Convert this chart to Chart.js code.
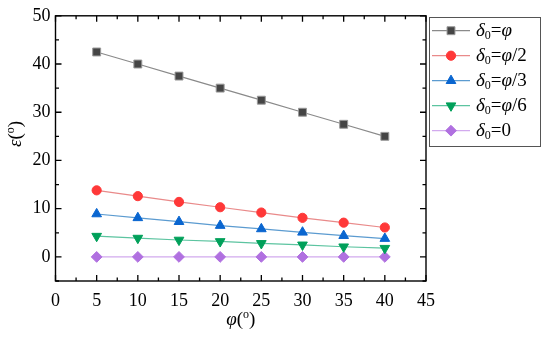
<!DOCTYPE html>
<html><head><meta charset="utf-8">
<script src="https://cdn.jsdelivr.net/npm/chart.js@4/dist/chart.umd.min.js"></script>
<style>html,body{margin:0;padding:0;background:#fff}#wrap{width:550px;height:340px;position:relative}</style>
</head><body><div id="wrap"><canvas id="c" width="550" height="340"></canvas></div>
<script>
const phi = [5, 10, 15, 20, 25, 30, 35, 40];
const epsPhi  = [42.5, 40, 37.5, 35, 32.5, 30, 27.5, 25];
const epsHalf = [13.8, 12.6, 11.4, 10.3, 9.2, 8.1, 7.1, 6.1];
const epsThird = [8.9, 8.1, 7.3, 6.5, 5.8, 5.1, 4.4, 3.8];
const epsSixth = [4.3, 3.9, 3.5, 3.2, 2.8, 2.5, 2.1, 1.8];
const epsZero = [0, 0, 0, 0, 0, 0, 0, 0];
const xTicks = [0, 5, 10, 15, 20, 25, 30, 35, 40, 45];
const yTicks = [0, 10, 20, 30, 40, 50];
const legendLabels = [
  [['δ','i'],['0','s'],['=','n'],['φ','i']],
  [['δ','i'],['0','s'],['=','n'],['φ','i'],['/2','n']],
  [['δ','i'],['0','s'],['=','n'],['φ','i'],['/3','n']],
  [['δ','i'],['0','s'],['=','n'],['φ','i'],['/6','n']],
  [['δ','i'],['0','s'],['=0','n']]
];

const SERIF = "'Liberation Serif'";

const styles = [
  {data: epsPhi, fill:'#454545', border:'#9a9a9a', line:'#8a8a8a', ps:'rect', r:5.6, rot:0},
  {data: epsHalf, fill:'#ff3838', border:'#ff3838', line:'#e98a8a', ps:'circle', r:4.6, rot:0},
  {data: epsThird, fill:'#0a66d0', border:'#0a66d0', line:'#5b9bd0', ps:'triangle', r:5.6, rot:0},
  {data: epsSixth, fill:'#00a05a', border:'#00a05a', line:'#5cc4a0', ps:'triangle', r:5.6, rot:180},
  {data: epsZero, fill:'#b070e0', border:'#b070e0', line:'#d2aaee', ps:'rectRot', r:5.4, rot:0}
];

const datasets = styles.map(s => ({
  data: phi.map((x,i) => ({x, y: s.data[i]})),
  borderColor: s.line, borderWidth: 1.2,
  pointStyle: s.ps, pointRadius: s.r, pointHoverRadius: s.r, pointRotation: s.rot,
  pointBackgroundColor: s.fill, pointBorderColor: s.border, pointBorderWidth: 1,
  tension: 0, fill: false
}));

function fontFor(st, size) {
  if (st === 'i') return 'italic ' + size + 'px ' + SERIF;
  if (st === 's') return Math.round(size*0.65) + 'px ' + SERIF;
  if (st === 'sup') return Math.round(size*0.62) + 'px ' + SERIF;
  return size + 'px ' + SERIF;
}
function drawRich(ctx, parts, x, y, size) {
  let cx = x;
  for (const [t, st] of parts) {
    let dy = 0;
    if (st === 's') dy = size*0.28;
    if (st === 'sup') dy = -size*0.38;
    ctx.font = fontFor(st, size);
    ctx.fillText(t, cx, y + dy);
    cx += ctx.measureText(t).width;
  }
  return cx - x;
}
function measureRich(ctx, parts, size) {
  let w = 0;
  for (const [t, st] of parts) { ctx.font = fontFor(st, size); w += ctx.measureText(t).width; }
  return w;
}

const frame = {
  id: 'frame',
  afterDatasetsDraw(chart) {
    const ctx = chart.ctx, a = chart.chartArea;
    const xs = chart.scales.x, ys = chart.scales.y;
    ctx.save();
    ctx.strokeStyle = '#000'; ctx.lineWidth = 1.4;
    ctx.strokeRect(a.left, a.top, a.right - a.left, a.bottom - a.top);
    ctx.lineWidth = 1.3;
    ctx.beginPath();
    for (let v = 0; v <= 45; v += 2.5) {
      const px = xs.getPixelForValue(v);
      const L = (v % 5 === 0) ? 6 : 3.5;
      ctx.moveTo(px, a.bottom); ctx.lineTo(px, a.bottom - L);
      ctx.moveTo(px, a.top); ctx.lineTo(px, a.top + L);
    }
    for (let v = -5; v <= 50; v += 5) {
      const py = ys.getPixelForValue(v);
      const L = (v % 10 === 0) ? 6 : 3.5;
      ctx.moveTo(a.left, py); ctx.lineTo(a.left + L, py);
      ctx.moveTo(a.right, py); ctx.lineTo(a.right - L, py);
    }
    ctx.stroke();

    ctx.fillStyle = '#000';
    ctx.textBaseline = 'alphabetic'; ctx.textAlign = 'left';
    const xt = [['φ','i'],['(','n'],['o','sup'],[')','n']];
    const xw = measureRich(ctx, xt, 19);
    drawRich(ctx, xt, (a.left + a.right)/2 - xw/2, 325, 19);
    const yt = [['ε','i'],['(','n'],['o','sup'],[')','n']];
    const yw = measureRich(ctx, yt, 19);
    ctx.save();
    ctx.translate(21, 134);
    ctx.rotate(-Math.PI/2);
    drawRich(ctx, yt, -yw/2, 0, 19);
    ctx.restore();

    ctx.strokeStyle = '#555'; ctx.lineWidth = 1;
    ctx.strokeRect(429.5, 17.5, 111, 129);
    styles.forEach((s, i) => {
      const y = 30.7 + i * 25;
      ctx.strokeStyle = s.line; ctx.lineWidth = 1.2;
      ctx.beginPath(); ctx.moveTo(432, y); ctx.lineTo(470, y); ctx.stroke();
      ctx.fillStyle = s.fill; ctx.strokeStyle = s.border; ctx.lineWidth = 1;
      Chart.helpers.drawPoint(ctx, {pointStyle: s.ps, radius: s.r, rotation: s.rot, borderWidth: 1}, 451, y);
      ctx.fillStyle = '#000';
      ctx.textBaseline = 'middle';
      drawRich(ctx, legendLabels[i], 476, y, 19);
    });
    ctx.restore();
  }
};

new Chart(document.getElementById('c'), {
  type: 'line',
  data: { datasets },
  plugins: [frame],
  options: {
    responsive: false, animation: false, devicePixelRatio: 1,
    layout: { padding: { left: 0, right: 124, top: 15, bottom: 0 } },
    plugins: { legend: { display: false }, tooltip: { enabled: false } },
    scales: {
      x: {
        type: 'linear', min: 0, max: 45,
        grid: { display: false, drawTicks: false }, border: { display: false },
        afterBuildTicks: sc => { sc.ticks = xTicks.map(v => ({value: v})); },
        afterFit: sc => { sc.height = 59; },
        ticks: { color: '#000', padding: 9, font: { family: SERIF, size: 18 } }
      },
      y: {
        type: 'linear', min: -5, max: 50,
        grid: { display: false, drawTicks: false }, border: { display: false },
        afterBuildTicks: sc => { sc.ticks = yTicks.map(v => ({value: v})); },
        afterFit: sc => { sc.width = 55.5; },
        ticks: { color: '#000', padding: 5, font: { family: SERIF, size: 18 } }
      }
    }
  }
});
</script></body></html>
